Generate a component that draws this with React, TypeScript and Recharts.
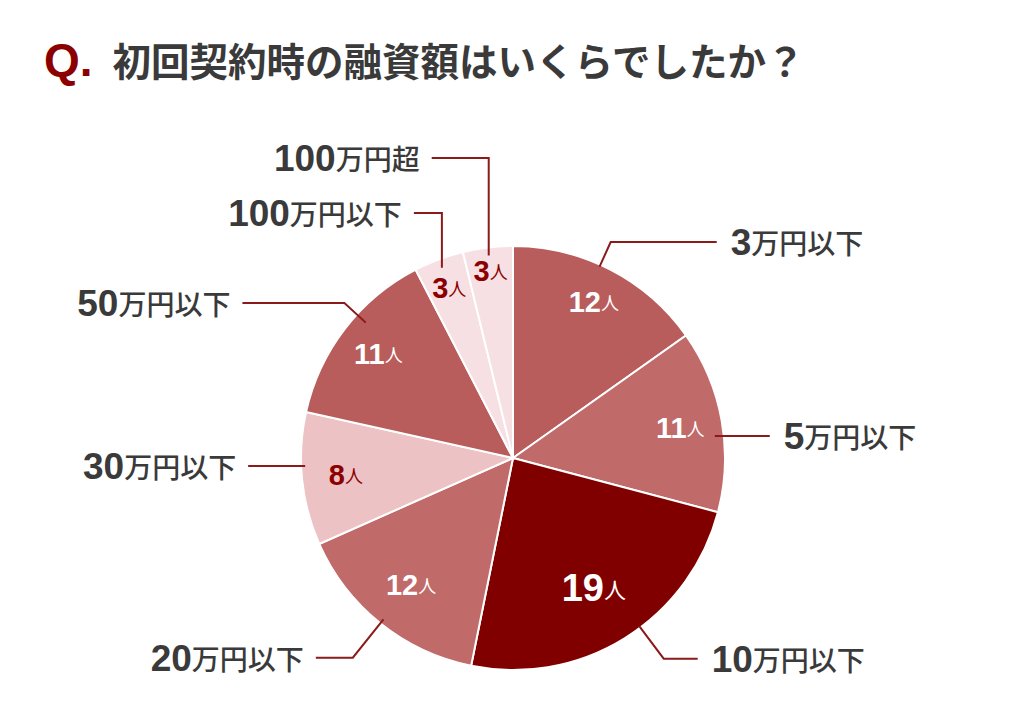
import { PieChart, Pie, Cell } from "recharts";

const categories = [
  "3万円以下",
  "5万円以下",
  "10万円以下",
  "20万円以下",
  "30万円以下",
  "50万円以下",
  "100万円以下",
  "100万円超",
];
const counts = [12, 11, 19, 12, 8, 11, 3, 3];
const fills = [
  "#b85c5c",
  "#c06a69",
  "#800000",
  "#c06a69",
  "#ecc2c5",
  "#b85c5c",
  "#f6e0e3",
  "#f6e0e3",
];
const valueColors = [
  "#ffffff",
  "#ffffff",
  "#ffffff",
  "#ffffff",
  "#8b0000",
  "#ffffff",
  "#8b0000",
  "#8b0000",
];

// leader line / label placement per slice (radii in px from the center)
const LAYOUT = [
  { inR: 176, r0: 210, r1: 237, shift: -3, arm: 106, num: 29 },
  { inR: 170, r0: 203, r1: 203, shift: 4, arm: 55, num: 29 },
  { inR: 153, r0: 210, r1: 251, shift: -5, arm: 34, num: 38 },
  { inR: 163, r0: 207, r1: 256, shift: 0, arm: -37, num: 29 },
  { inR: 168, r0: 208, r1: 208, shift: 3.5, arm: -57, num: 29 },
  { inR: 170, r0: 200, r1: 229, shift: 5, arm: -102, num: 29 },
  { inR: 182, r0: 203, vy: 245, shift: 0, arm: -28, num: 29 },
  { inR: 188, r0: 204, vy: 300, shift: 0, arm: -57, num: 29 },
];

const data = categories.map((name, i) => ({ name, value: counts[i] }));

const DIGIT_FONT = "'Liberation Sans', Arial, sans-serif";
const CJK_FONT = "'Noto Sans CJK JP', sans-serif";

const polar = (cx: number, cy: number, r: number, deg: number) => ({
  x: cx + r * Math.sin((deg * Math.PI) / 180),
  y: cy - r * Math.cos((deg * Math.PI) / 180),
});

function renderLabel(props: any) {
  const { cx, cy, midAngle, index, value, name } = props;
  const l = LAYOUT[index];
  const fromTop = 90 - midAngle;
  const inner = polar(cx, cy, l.inR, fromTop);
  const start = polar(cx, cy, l.r0, fromTop + l.shift);
  const elbow =
    l.vy !== undefined
      ? { x: start.x, y: cy - l.vy }
      : polar(cx, cy, l.r1, fromTop + l.shift);
  const end = { x: elbow.x + l.arm, y: elbow.y };
  const right = l.arm > 0;
  const m = /^(\d+)(.*)$/.exec(name) || ["", name, ""];
  return (
    <g key={`lbl-${index}`}>
      <text
        x={inner.x}
        y={inner.y}
        textAnchor="middle"
        dominantBaseline="central"
        fill={valueColors[index]}
      >
        <tspan fontFamily={DIGIT_FONT} fontWeight={700} fontSize={l.num}>
          {value}
        </tspan>
        <tspan fontFamily={CJK_FONT} fontSize={l.num > 30 ? 22 : 18}>
          人
        </tspan>
      </text>
      <polyline
        points={`${start.x},${start.y} ${elbow.x},${elbow.y} ${end.x},${end.y}`}
        fill="none"
        stroke="#8b1a1a"
        strokeWidth={2}
      />
      <text
        x={end.x + (right ? 14 : -12)}
        y={end.y}
        textAnchor={right ? "start" : "end"}
        dominantBaseline="central"
        fill="#3a3a3a"
      >
        <tspan fontFamily={DIGIT_FONT} fontWeight={700} fontSize={37}>
          {m[1]}
        </tspan>
        <tspan fontFamily={CJK_FONT} fontWeight={500} fontSize={28}>
          {m[2]}
        </tspan>
      </text>
    </g>
  );
}

export default function App() {
  return (
    <div
      style={{
        position: "absolute",
        left: 0,
        top: 0,
        width: 1024,
        height: 725,
        background: "#ffffff",
        overflow: "hidden",
      }}
    >
      <div
        style={{
          position: "absolute",
          left: 44,
          top: 34,
          whiteSpace: "nowrap",
          color: "#3a3a3a",
          fontFamily: CJK_FONT,
          fontWeight: 700,
          fontSize: 38.5,
          lineHeight: "50px",
        }}
      >
        <span
          style={{
            color: "#8b0000",
            fontFamily: DIGIT_FONT,
            fontSize: 46,
            fontWeight: 700,
            marginRight: 20,
          }}
        >
          Q.
        </span>
        初回契約時の融資額はいくらでしたか？
      </div>
      <div style={{ position: "absolute", left: 0, top: 0 }}>
        <PieChart
          width={1024}
          height={725}
          margin={{ top: 0, right: 0, bottom: 0, left: 0 }}
        >
          <Pie
            data={data}
            dataKey="value"
            nameKey="name"
            cx={513}
            cy={458}
            outerRadius={212}
            startAngle={90}
            endAngle={-270}
            stroke="#ffffff"
            strokeWidth={2}
            label={renderLabel}
            labelLine={false}
            isAnimationActive={false}
          >
            {data.map((_, i) => (
              <Cell key={`cell-${i}`} fill={fills[i]} />
            ))}
          </Pie>
        </PieChart>
      </div>
    </div>
  );
}
